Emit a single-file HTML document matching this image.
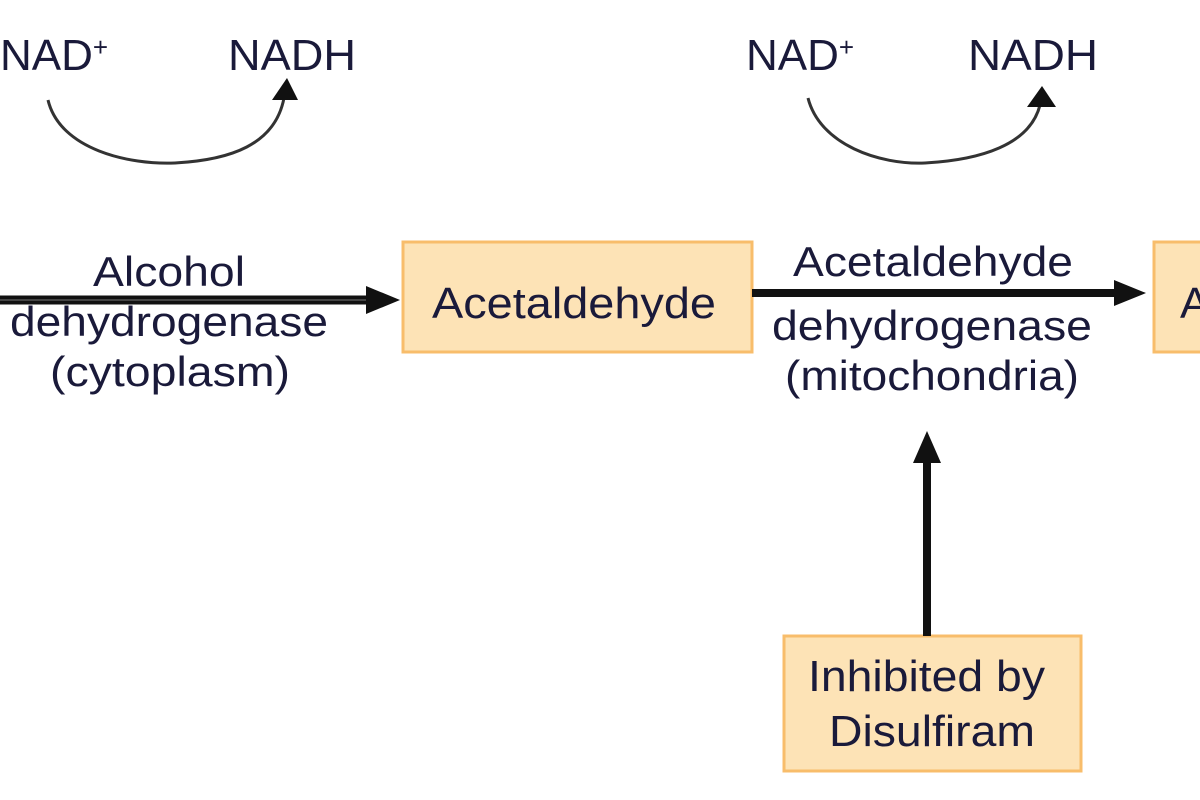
<!DOCTYPE html>
<html><head><meta charset="utf-8"><style>
html,body{margin:0;padding:0;background:#fff;}
svg{display:block;}
text{font-family:"Liberation Sans",Arial,sans-serif;fill:#1a1a3a;}
</style></head><body>
<svg width="1200" height="800" viewBox="0 0 1200 800" xmlns="http://www.w3.org/2000/svg">
<!-- boxes -->
<rect x="403" y="242" width="349" height="110" fill="#fde3b6" stroke="#f8bd6b" stroke-width="3"/>
<rect x="1154" y="242" width="60" height="110" fill="#fde3b6" stroke="#f8bd6b" stroke-width="3"/>
<rect x="784" y="636" width="297" height="135" fill="#fde3b6" stroke="#f8bd6b" stroke-width="3"/>
<text x="432" y="318" font-size="44" textLength="284" lengthAdjust="spacingAndGlyphs">Acetaldehyde</text>
<text x="1180" y="318" font-size="44">A</text>
<text x="808" y="691" font-size="44" textLength="237" lengthAdjust="spacingAndGlyphs">Inhibited by</text>
<text x="829" y="746" font-size="44" textLength="206" lengthAdjust="spacingAndGlyphs">Disulfiram</text>
<!-- main arrows -->
<line x1="0" y1="300" x2="370" y2="300" stroke="#111" stroke-width="9"/>
<line x1="0" y1="300" x2="370" y2="300" stroke="#555" stroke-width="1.5"/>
<path d="M366,286 L400,300 L366,314 Z" fill="#111"/>
<line x1="752" y1="293" x2="1118" y2="293" stroke="#111" stroke-width="8"/>
<path d="M1114,280 L1146,293 L1114,306 Z" fill="#111"/>
<line x1="927" y1="636" x2="927" y2="460" stroke="#111" stroke-width="8"/>
<path d="M913,463 L927,431 L941,463 Z" fill="#111"/>
<!-- labels -->
<text x="93" y="286" font-size="42" textLength="152" lengthAdjust="spacingAndGlyphs">Alcohol</text>
<text x="10" y="336" font-size="42" textLength="318" lengthAdjust="spacingAndGlyphs">dehydrogenase</text>
<text x="50" y="386" font-size="42" textLength="240" lengthAdjust="spacingAndGlyphs">(cytoplasm)</text>
<text x="793" y="276" font-size="42" textLength="280" lengthAdjust="spacingAndGlyphs">Acetaldehyde</text>
<text x="772" y="340" font-size="42" textLength="320" lengthAdjust="spacingAndGlyphs">dehydrogenase</text>
<text x="785" y="390" font-size="42" textLength="294" lengthAdjust="spacingAndGlyphs">(mitochondria)</text>
<!-- NAD -->
<text x="0" y="70" font-size="44">NAD<tspan font-size="26" dy="-14">+</tspan></text>
<text x="228" y="70" font-size="44" textLength="128" lengthAdjust="spacingAndGlyphs">NADH</text>
<text x="746" y="70" font-size="44">NAD<tspan font-size="26" dy="-14">+</tspan></text>
<text x="968" y="70" font-size="44" textLength="130" lengthAdjust="spacingAndGlyphs">NADH</text>
<path d="M48,100 C60,150 130,165 175,163 C230,160 275,145 284,98" fill="none" stroke="#333" stroke-width="3"/>
<path d="M272,100 L287,78 L298,100 Z" fill="#111"/>
<path d="M808,98 C820,145 880,165 925,163 C980,160 1030,145 1040,105" fill="none" stroke="#333" stroke-width="3"/>
<path d="M1027,107 L1042,86 L1056,107 Z" fill="#111"/>
</svg>
</body></html>
